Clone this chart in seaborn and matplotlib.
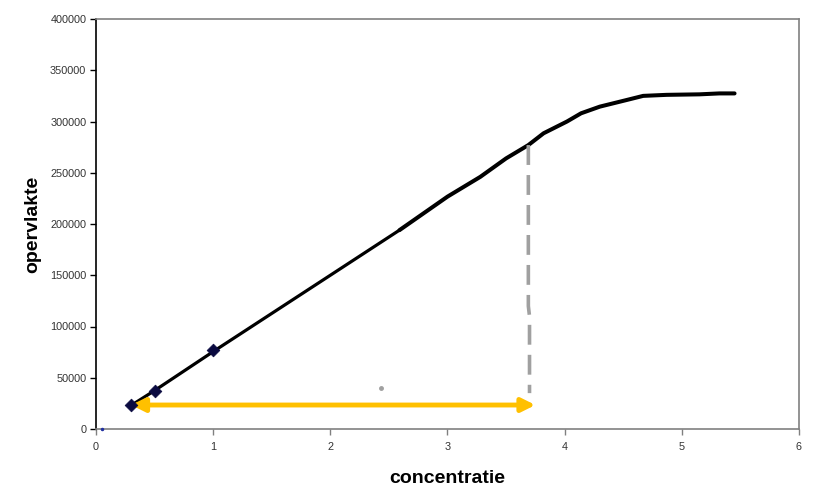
import matplotlib
matplotlib.use("Agg")
import matplotlib.pyplot as plt
import seaborn as sns
import pandas as pd
import numpy as np

# Data
meas_x = [0.3, 0.5, 1.0]
meas_y = [23000, 37000, 77500]
lin_x = [0.3, 0.5, 1.0, 2.0, 2.59]
lin_y = [23000, 37500, 75500, 150000, 194000]
curve_x = [2.59, 3.0, 3.28, 3.5, 3.69, 3.82, 4.02, 4.14, 4.30, 4.53, 4.67, 4.87, 5.15, 5.32, 5.45]
curve_y = [194000, 226700, 246000, 264000, 277000, 288500, 300000, 308000, 314500, 321000, 325000, 326000, 326500, 327400, 327400]
dash_x = [3.69, 3.69, 3.69, 3.70, 3.70, 3.70]
dash_y = [277000, 130000, 120000, 110000, 100000, 35000]
arrow_x = [0.3, 3.75]
arrow_y = [23400, 23400]
stray_x = [0.05, 2.43]
stray_y = [0, 40000]
x_ticks = [0, 1, 2, 3, 4, 5, 6]
y_ticks = [0, 50000, 100000, 150000, 200000, 250000, 300000, 350000, 400000]

sns.set_theme(style="white")
plt.rcParams['font.family'] = ['Liberation Sans', 'DejaVu Sans']

fig = plt.figure(figsize=(8.28, 5.01), dpi=100)
ax = fig.add_axes([96/828, 72/501, (799-96)/828, (429-19)/501])

lin_df = pd.DataFrame({"x": lin_x, "y": lin_y})
sns.lineplot(data=lin_df, x="x", y="y", ax=ax, color="black", linewidth=2.3,
             sort=False, estimator=None)
ax.lines[-1].set_solid_capstyle("round")
curve_df = pd.DataFrame({"x": curve_x, "y": curve_y})
sns.lineplot(data=curve_df, x="x", y="y", ax=ax, color="black", linewidth=2.9,
             sort=False, estimator=None)
ax.lines[-1].set_solid_capstyle("round")
ax.lines[-1].set_solid_joinstyle("round")
dash_df = pd.DataFrame({"x": dash_x, "y": dash_y})
sns.lineplot(data=dash_df, x="x", y="y", ax=ax, color="#a0a0a0", linewidth=2.6,
             sort=False, estimator=None)
ax.lines[-1].set_dashes([5.5, 2.8])
meas_df = pd.DataFrame({"x": meas_x, "y": meas_y})
sns.scatterplot(data=meas_df, x="x", y="y", ax=ax, marker="D", s=42,
                color="#0a0a40", edgecolor="#0a0a40", zorder=5)
ax.plot(stray_x[1], stray_y[1], 'o', color="#a0a0a0", markersize=2.5)
ax.plot(stray_x[0], stray_y[0], 'o', color="#2030a0", markersize=1.5, zorder=6, clip_on=False)

ax.annotate("", xy=(arrow_x[0], arrow_y[0]), xytext=(arrow_x[1], arrow_y[1]),
            arrowprops=dict(arrowstyle="<|-|>", color="#FFC000", lw=3.5,
                            mutation_scale=20, shrinkA=0, shrinkB=0))

ax.set_xlim(0, 6)
ax.set_ylim(0, 400000)
ax.set_xticks(x_ticks)
ax.set_yticks(y_ticks)
ax.set_xticklabels([str(v) for v in x_ticks], fontsize=7.8, color="#333333")
ax.set_yticklabels([str(v) for v in y_ticks], fontsize=7.8, color="#333333")
ax.tick_params(axis="both", which="major", direction="out", length=4, width=1,
               bottom=True, left=True, pad=3)
ax.tick_params(axis="x", color="#808080", pad=5)
ax.tick_params(axis="y", color="black")

ax.set_xlabel("concentratie", fontsize=14, fontweight="bold", labelpad=13, color="black")
ax.set_ylabel("opervlakte", fontsize=14, fontweight="bold", labelpad=6, color="black")

for side in ["top", "right", "bottom"]:
    ax.spines[side].set_color("#808080")
    ax.spines[side].set_linewidth(1.2)
ax.spines["left"].set_color("black")
ax.spines["left"].set_linewidth(1.2)

fig.savefig("out.png", dpi=100)
